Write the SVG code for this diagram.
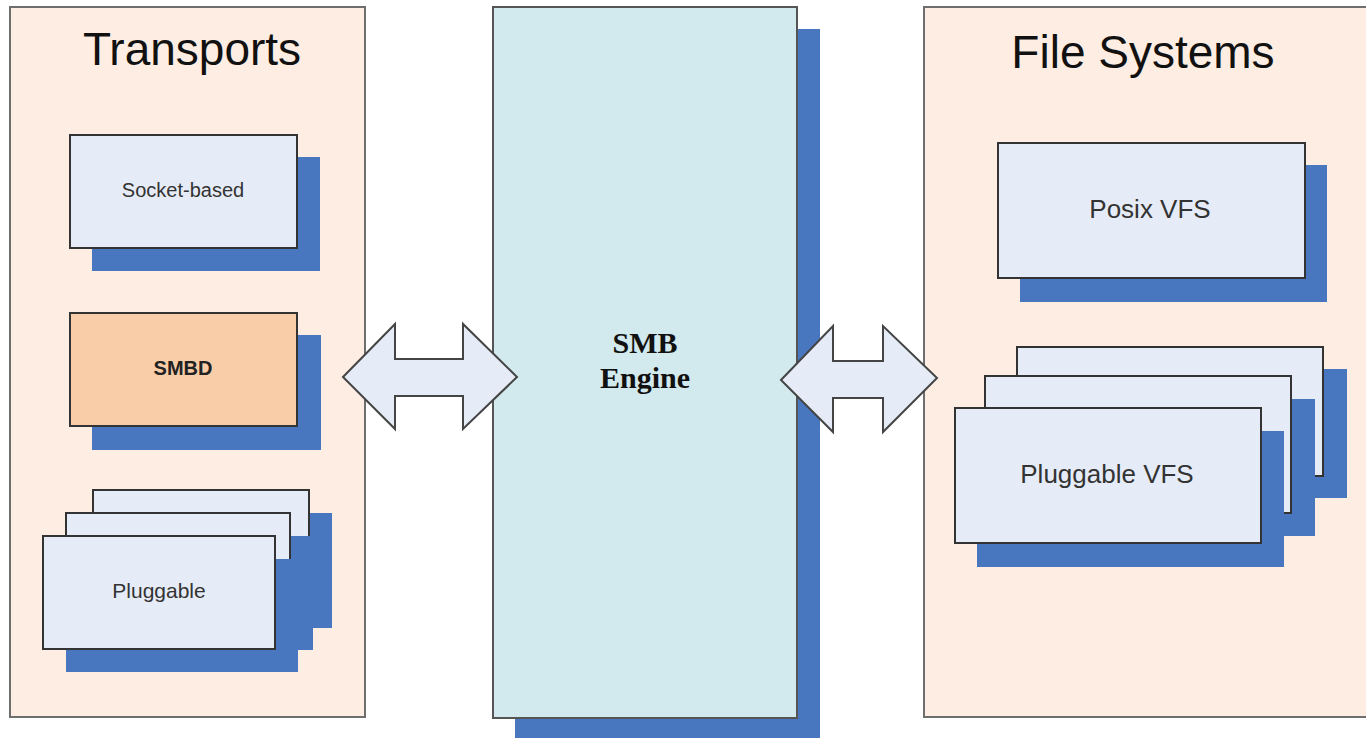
<svg xmlns="http://www.w3.org/2000/svg" width="1366" height="738" viewBox="0 0 1366 738">
<style>
.panel{fill:#fdede2;stroke:#6e6e6e;stroke-width:2}
.box{fill:#e6ecf7;stroke:#333;stroke-width:2}
.sh{fill:#4877c0}
.lbl{font-family:"Liberation Sans",Arial,sans-serif;fill:#333;text-anchor:middle}
.title{font-family:"Liberation Sans",Arial,sans-serif;fill:#111;font-size:46px;text-anchor:middle}
.arrow{fill:#e6ecf7;stroke:#444;stroke-width:2;stroke-linejoin:miter}
</style>
<rect width="1366" height="738" fill="#ffffff"/>
<g id="transports">
<rect class="panel" x="10" y="7" width="355" height="710"/>
<text class="title" x="192" y="65">Transports</text>
</g>
<g id="filesystems">
<rect class="panel" x="924" y="7" width="470" height="710"/>
<text class="title" x="1143" y="68">File Systems</text>
</g>
<g id="socket">
<rect class="sh" x="92" y="157" width="228" height="114"/>
<rect class="box" x="70" y="135" width="227" height="113"/>
<text class="lbl" x="183" y="197" font-size="20">Socket-based</text>
</g>
<g id="smbd">
<rect class="sh" x="92" y="335" width="229" height="115"/>
<rect class="box" x="70" y="313" width="227" height="113" style="fill:#f9cda8"/>
<text class="lbl" x="183" y="375" font-size="20" font-weight="bold" style="fill:#222">SMBD</text>
</g>
<g id="pluggable">
<rect class="sh" x="116" y="513" width="216" height="115"/>
<rect class="box" x="93" y="490" width="216" height="113"/>
<rect class="sh" x="89" y="536" width="224" height="114"/>
<rect class="box" x="66" y="513" width="224" height="114"/>
<rect class="sh" x="66" y="559" width="232" height="113"/>
<rect class="box" x="43" y="536" width="232" height="113"/>
<text class="lbl" x="159" y="598" font-size="21">Pluggable</text>
</g>
<g id="engine">
<rect class="sh" x="515" y="29" width="305" height="720"/>
<rect class="box" x="493" y="7" width="304" height="711" style="fill:#d2e9ee;stroke:#555"/>
<text x="645" y="353" font-family="'Liberation Serif','Times New Roman',serif" font-weight="bold" font-size="30" fill="#111" text-anchor="middle">SMB</text>
<text x="645" y="388" font-family="'Liberation Serif','Times New Roman',serif" font-weight="bold" font-size="30" fill="#111" text-anchor="middle">Engine</text>
</g>
<g id="posix">
<rect class="sh" x="1020" y="165" width="307" height="137"/>
<rect class="box" x="998" y="143" width="307" height="135"/>
<text class="lbl" x="1150" y="218" font-size="26">Posix VFS</text>
</g>
<g id="pluggablevfs">
<rect class="sh" x="1040" y="369" width="307" height="129"/>
<rect class="box" x="1017" y="347" width="306" height="129"/>
<rect class="sh" x="1008" y="399" width="307" height="137"/>
<rect class="box" x="985" y="376" width="306" height="137"/>
<rect class="sh" x="977" y="431" width="307" height="136"/>
<rect class="box" x="955" y="408" width="306" height="135"/>
<text class="lbl" x="1107" y="483" font-size="26">Pluggable VFS</text>
</g>
<g id="connectors">
<polygon class="arrow" points="343,377 395,324 395,359 463,359 463,324 517,377 463,429 463,396 395,396 395,429"/>
<polygon class="arrow" points="781,380 833,326 833,361 883,361 883,326 937,378 883,432 883,398 833,398 833,432"/>
</g>
</svg>
